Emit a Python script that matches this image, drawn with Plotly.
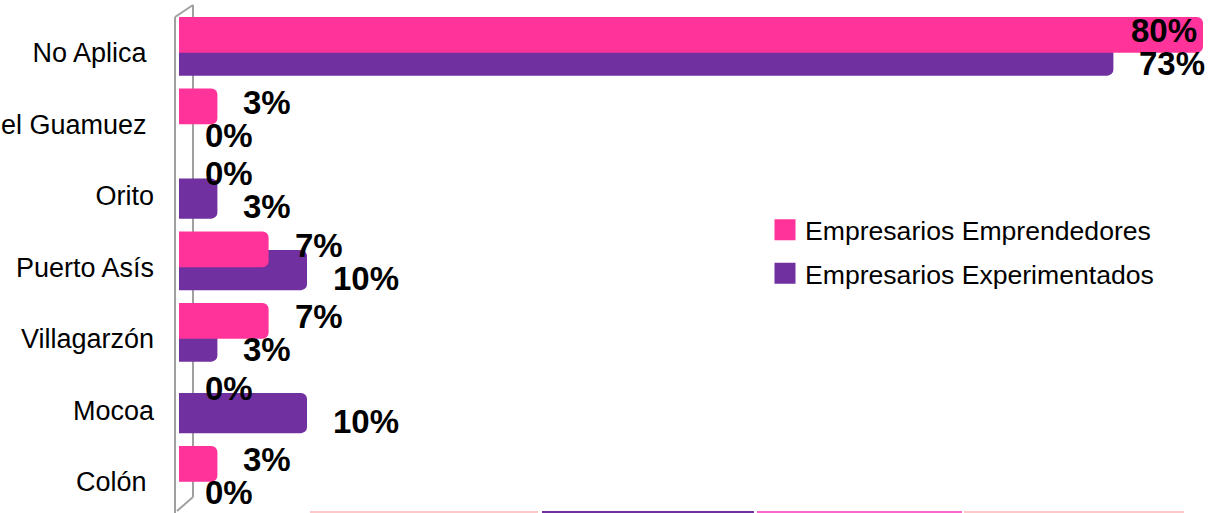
import plotly.graph_objects as go

# ---- data ----
categories = ["No Aplica", "Valle del Guamuez", "Orito", "Puerto Asís",
              "Villagarzón", "Mocoa", "Colón"]
tick_text = ["No Aplica\u00a0", "Valle del Guamuez\u00a0", "Orito", "Puerto Asís",
             "Villagarzón", "Mocoa", "Colón\u00a0"]
emprendedores = [80, 3, 0, 7, 7, 0, 3]
experimentados = [73, 0, 3, 10, 3, 10, 0]
series_names = ["Empresarios Emprendedores", "Empresarios Experimentados"]

# ---- styles ----
PINK = "#FF3399"
PURPLE = "#7030A0"
FONT = "Arial, Liberation Sans, sans-serif"
W, H = 1214, 513
ML, MR, MT, MB = 175, 0, 17, 0
PW, PH = W - ML - MR, H - MT - MB
X0_PX, K = 179, 12.8          # pixel of zero, pixels per percent
XRANGE = [-(X0_PX - ML) / K, (W - MR - X0_PX) / K]


def px_x(px):
    return (px - ML) / PW


def px_y(py):
    return (H - MB - py) / PH


fig = go.Figure()

# purple bars (behind)
fig.add_trace(go.Bar(
    y=categories, x=experimentados, orientation="h", name=series_names[1],
    marker=dict(color=PURPLE, cornerradius=6, line=dict(width=0)),
    width=0.56, offset=-0.24, showlegend=False,
    hovertemplate="%{y}: %{x}%<extra>" + series_names[1] + "</extra>",
))
# pink bars (front)
fig.add_trace(go.Bar(
    y=categories, x=emprendedores, orientation="h", name=series_names[0],
    marker=dict(color=PINK, cornerradius=6, line=dict(width=0)),
    width=0.5, offset=-0.5, showlegend=False,
    hovertemplate="%{y}: %{x}%<extra>" + series_names[0] + "</extra>",
))

# legend proxies
for name, col, rank in [(series_names[0], PINK, 1), (series_names[1], PURPLE, 2)]:
    fig.add_trace(go.Scatter(
        x=[None], y=[None], mode="markers", name=name, legendrank=rank,
        legendgroup=name,
        marker=dict(symbol="square", size=16, color=col, line=dict(color=col, width=5)),
    ))

# value labels
label_font = dict(family=FONT, size=33, color="black", weight=700)
for vals, yshift in [(emprendedores, 22), (experimentados, -11)]:
    for cat, v in zip(categories, vals):
        inside = v * K + X0_PX + 95 > W
        fig.add_annotation(
            x=v, y=cat, xref="x", yref="y", text=f"{v}%", showarrow=False,
            xanchor="right" if inside else "left",
            xshift=-4 if inside else 24, yshift=yshift,
            font=label_font,
        )

# 3D wall outline
wall = dict(color="#A0A0A0", width=2)
shapes = [
    dict(type="line", xref="paper", yref="paper", x0=px_x(175), x1=px_x(175),
         y0=px_y(17), y1=px_y(513), line=wall, layer="below"),
    dict(type="line", xref="paper", yref="paper", x0=px_x(193), x1=px_x(193),
         y0=px_y(5), y1=px_y(497), line=wall, layer="below"),
    dict(type="line", xref="paper", yref="paper", x0=px_x(175), x1=px_x(193),
         y0=px_y(17), y1=px_y(5), line=wall, layer="below"),
    dict(type="line", xref="paper", yref="paper", x0=px_x(193), x1=px_x(177),
         y0=px_y(497), y1=px_y(511), line=wall, layer="below"),
]
# coloured strip at the bottom edge
for a, b, col in [(310, 538, "#FFC8C8"), (542, 754, PURPLE),
                  (757, 962, "#FF66CC"), (964, 1184, "#FFC8C8")]:
    shapes.append(dict(type="line", xref="paper", yref="paper",
                       x0=px_x(a), x1=px_x(b), y0=px_y(512), y1=px_y(512),
                       line=dict(color=col, width=2)))

fig.update_layout(
    width=W, height=H,
    margin=dict(l=ML, r=MR, t=MT, b=MB, pad=0),
    barmode="overlay",
    paper_bgcolor="white", plot_bgcolor="rgba(0,0,0,0)",
    font=dict(family=FONT, color="black"),
    shapes=shapes,
    showlegend=True,
    legend=dict(
        x=px_x(765), y=px_y(252), xanchor="left", yanchor="middle",
        font=dict(family=FONT, size=26.6, color="black"),
        bgcolor="rgba(0,0,0,0)", traceorder="grouped", tracegroupgap=6,
        itemwidth=30,
    ),
    xaxis=dict(range=XRANGE, visible=False, fixedrange=True),
    yaxis=dict(
        type="category", categoryorder="array", categoryarray=categories,
        range=[-0.5 + PH / 71.5, -0.5], tickvals=categories, ticktext=tick_text,
        showgrid=False, zeroline=False, showline=False, ticks="",
        tickfont=dict(family=FONT, size=27, color="black"),
        ticklabelstandoff=20, automargin=False, fixedrange=True,
    ),
)

fig.write_html(
    "out.html",
    config={"displayModeBar": False},
    post_script="document.body.style.margin='0';document.body.style.overflow='hidden';",
)
